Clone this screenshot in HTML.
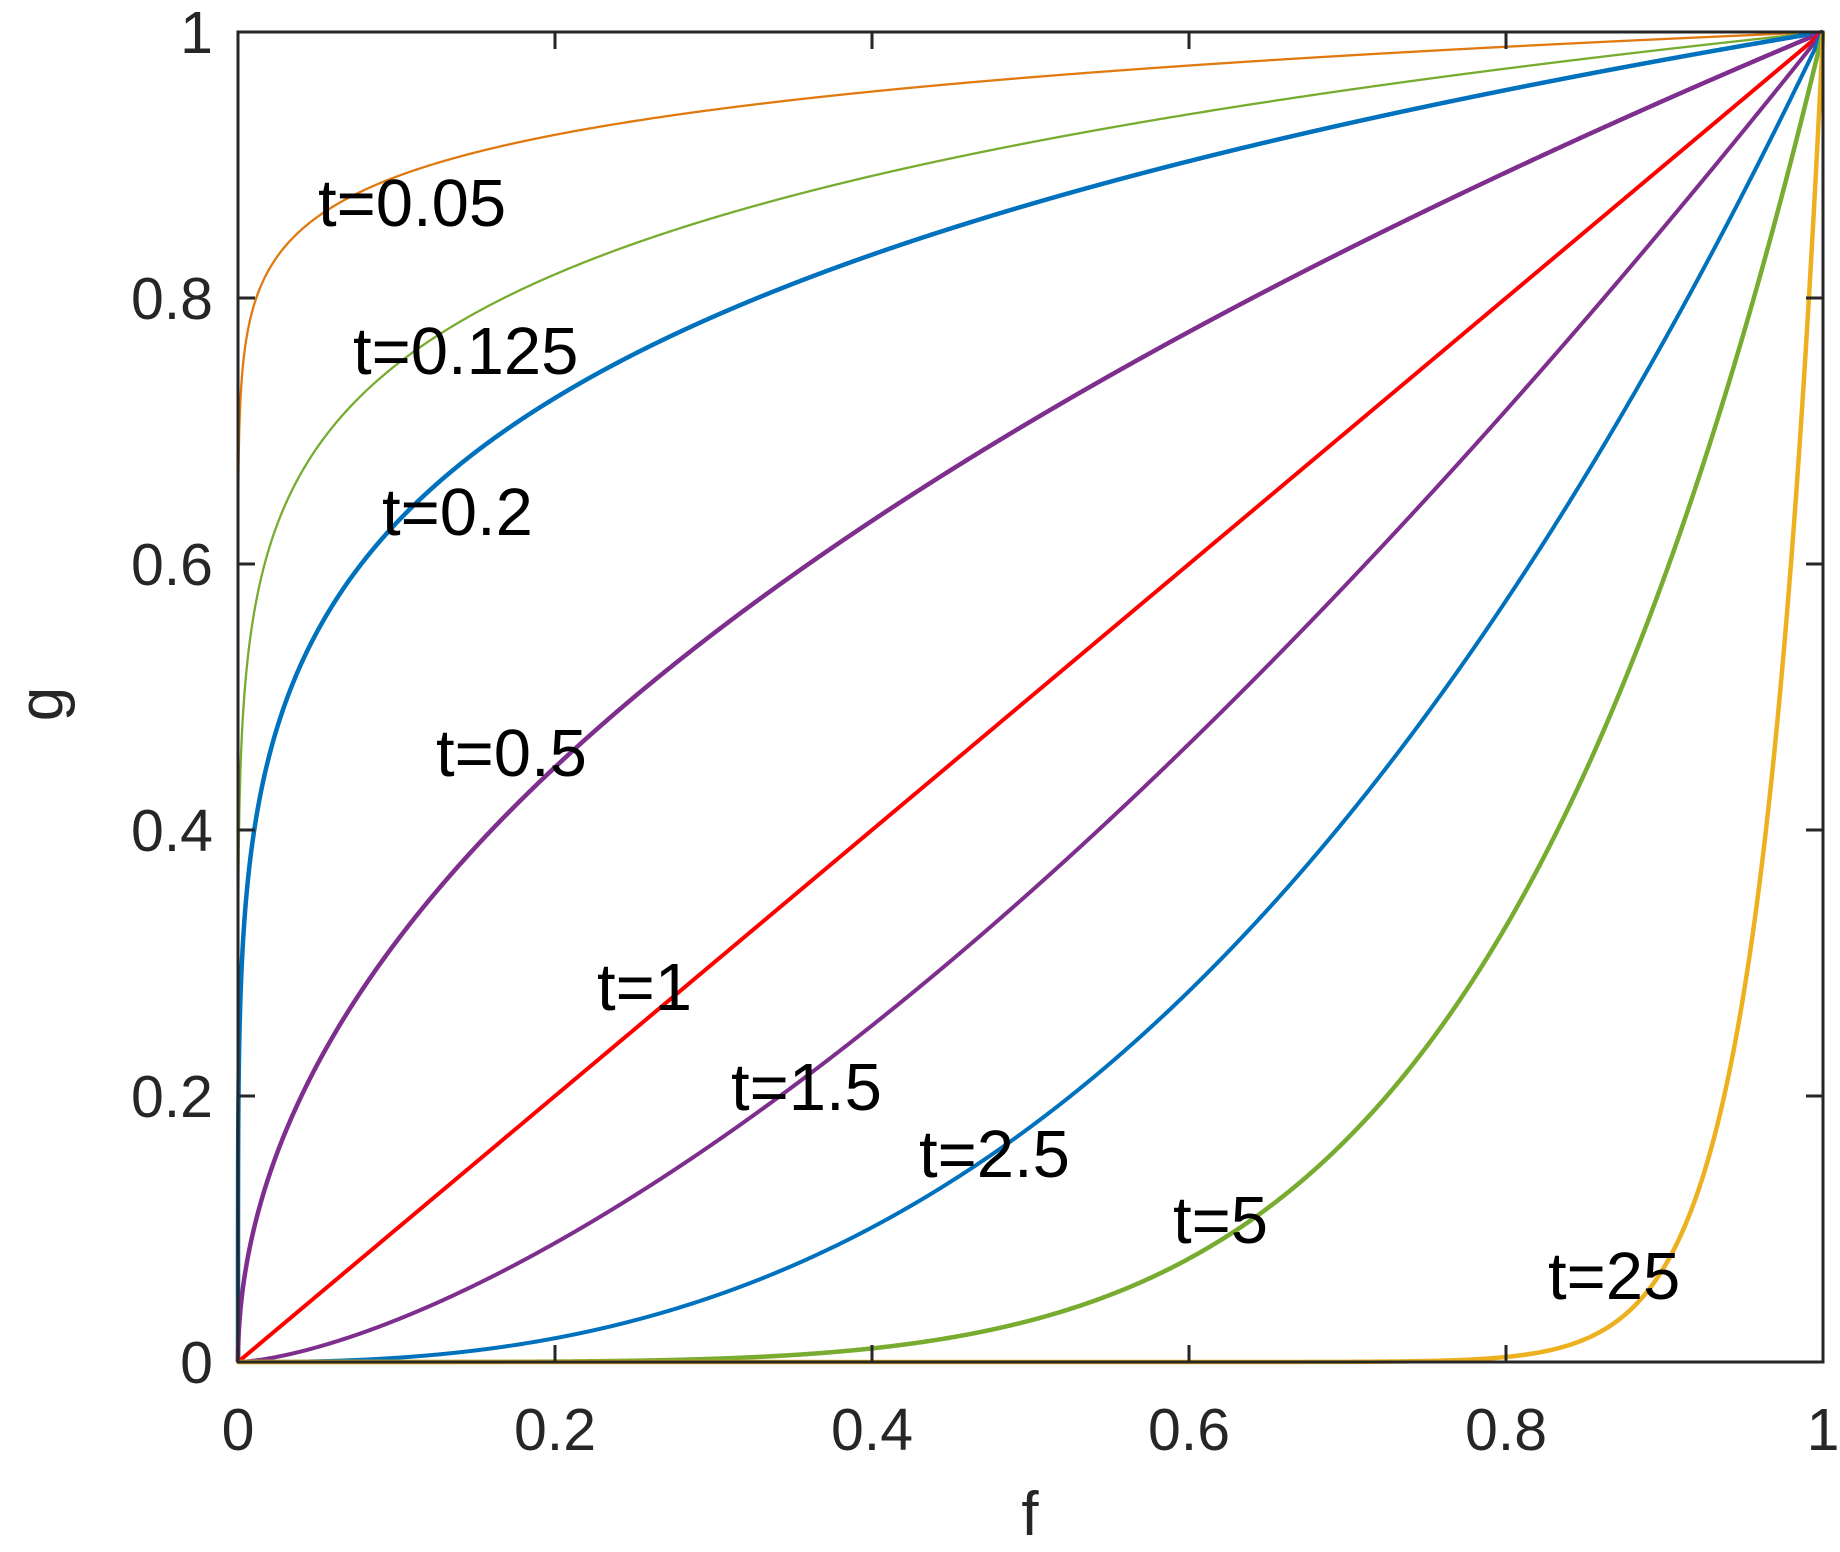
<!DOCTYPE html>
<html><head><meta charset="utf-8"><style>
html,body{margin:0;padding:0;background:#fff;}
svg text{font-family:"Liberation Sans",Arial,sans-serif;}
</style></head><body>
<svg id="s" width="1840" height="1547" viewBox="0 0 1840 1547" xmlns="http://www.w3.org/2000/svg">
<rect width="1840" height="1547" fill="#fff"/>
<g id="curves" fill="none" stroke-linejoin="round"></g>
<g stroke="#262626" stroke-width="3" fill="none">
<rect x="238" y="32" width="1585" height="1330"/>
<path id="ticks" d=""/>
</g>
<g font-size="59" fill="#262626" text-anchor="end">
<text x="213" y="1383">0</text>
<text x="213" y="1117">0.2</text>
<text x="213" y="851">0.4</text>
<text x="213" y="585">0.6</text>
<text x="213" y="319">0.8</text>
<text x="213" y="53">1</text>
</g>
<g font-size="59" fill="#262626" text-anchor="middle">
<text x="238" y="1450">0</text>
<text x="555" y="1450">0.2</text>
<text x="872" y="1450">0.4</text>
<text x="1189" y="1450">0.6</text>
<text x="1506" y="1450">0.8</text>
<text x="1823" y="1450">1</text>
<text x="1030" y="1535" font-size="62">f</text>
<text x="0" y="0" font-size="62" transform="translate(62,704) rotate(-90)">g</text>
</g>
<g font-size="67" fill="#000">
<text x="318" y="226">t=0.05</text>
<text x="353" y="374">t=0.125</text>
<text x="382" y="535">t=0.2</text>
<text x="436" y="776">t=0.5</text>
<text x="597" y="1010">t=1</text>
<text x="731" y="1110">t=1.5</text>
<text x="919" y="1177">t=2.5</text>
<text x="1173" y="1243">t=5</text>
<text x="1548" y="1299">t=25</text>
</g>
</svg>
<script>
var X0=238,X1=1823,Y0=1362,Y1=32;
var series=[[0.05,"#E07A10",2.3],[0.125,"#77AC30",2.3],[0.2,"#0072BD",4.5],[0.5,"#7E2F8E",4.5],[1,"#FF0000",4],[1.5,"#7E2F8E",4],[2.5,"#0072BD",4],[5,"#77AC30",4.5],[25,"#EDB120",4.5]];
var g=document.getElementById("curves"),ns="http://www.w3.org/2000/svg";
series.forEach(function(s){
 var pts=[];var fs=[0];
 for(var k=-12;k<-3;k+=0.05)fs.push(Math.pow(10,k));
 for(var i=1;i<=2000;i++)fs.push(i/2000);
 fs.sort(function(a,b){return a-b});
 fs.forEach(function(f){var y=Math.pow(f,s[0]);pts.push((X0+f*(X1-X0)).toFixed(2)+","+(Y0-y*(Y0-Y1)).toFixed(2));});
 var p=document.createElementNS(ns,"polyline");
 p.setAttribute("points",pts.join(" "));p.setAttribute("stroke",s[1]);p.setAttribute("stroke-width",s[2]);
 g.appendChild(p);
});
var d="";
for(var i=0;i<=5;i++){var x=X0+i*(X1-X0)/5,y=Y0-i*(Y0-Y1)/5;
 d+="M"+x+","+Y0+"v-17M"+x+","+Y1+"v17M"+X0+","+y+"h17M"+X1+","+y+"h-17";}
document.getElementById("ticks").setAttribute("d",d);
</script>
</body></html>
